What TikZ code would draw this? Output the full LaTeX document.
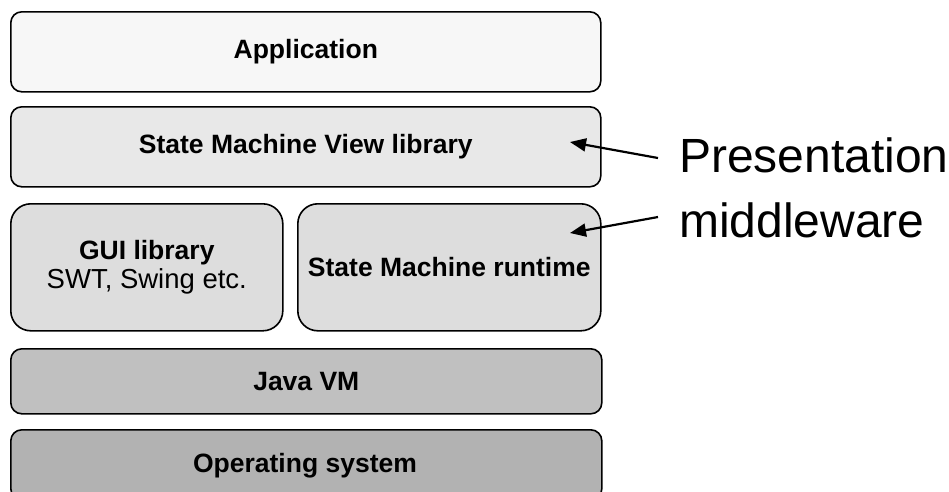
\documentclass[tikz,border=0pt]{standalone}
\usepackage{fontspec}
\setmainfont{Liberation Sans}
\usetikzlibrary{arrows.meta}
\begin{document}
\begin{tikzpicture}[x=1pt,y=-1pt,
  layer/.style={draw=black, line width=1.6pt, rounded corners=#1, inner sep=0pt, anchor=north west, font=\fontsize{26.5}{30}\selectfont\bfseries, align=center},
  layer/.default=11pt,
  note/.style={font=\fontsize{48}{65}\selectfont, anchor=base west, inner sep=0pt},
  pointer/.style={-{Triangle[length=16pt,width=13pt]}, line width=2.2pt}]
\useasboundingbox (0,0) rectangle (949,491);
\clip (0,0) rectangle (949,491);
\node[layer, fill={rgb,255:red,247;green,247;blue,247}, minimum width=590pt, minimum height=80pt] (app) at (10,11) {Application};
\node[layer, fill={rgb,255:red,232;green,232;blue,232}, minimum width=590pt, minimum height=80pt] (smv) at (10,106) {State Machine View library};
\node[layer=20pt, fill={rgb,255:red,221;green,221;blue,221}, minimum width=272pt, minimum height=127pt] (gui) at (10,203) {GUI library\\[-1pt]\mdseries\fontsize{27.5}{30}\selectfont SWT, Swing etc.};
\node[layer=20pt, fill={rgb,255:red,221;green,221;blue,221}, minimum width=303pt, minimum height=127pt] (smr) at (297,203) {State Machine runtime};
\node[layer, fill={rgb,255:red,192;green,192;blue,192}, minimum width=591pt, minimum height=65pt] (jvm) at (10,348) {Java VM};
\node[layer, fill={rgb,255:red,178;green,178;blue,178}, minimum width=591pt, minimum height=70pt] (os) at (10,429) {};
\node[font=\fontsize{26.5}{30}\selectfont\bfseries, anchor=base] (ostext) at (305,472) {Operating system};
\node[note] (pm1) at (679,172) {Presentation};
\node[note] (pm2) at (679,237) {middleware};
\coordinate (t1) at (658,158);
\coordinate (t2) at (658,217);
\coordinate (h1) at (570,142);
\coordinate (h2) at (570,233);
\draw[pointer] (t1) -- (h1);
\draw[pointer] (t2) -- (h2);
\end{tikzpicture}
\end{document}
